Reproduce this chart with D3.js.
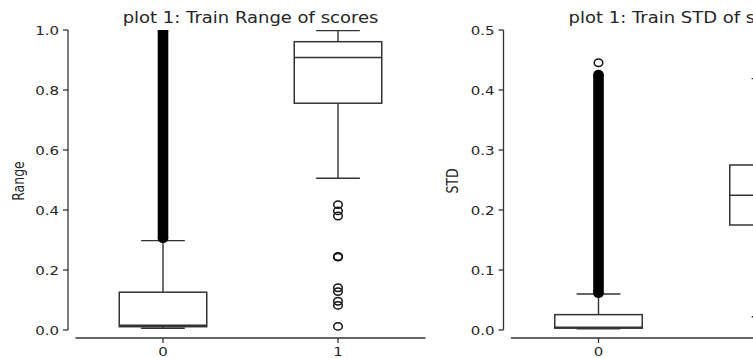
<!DOCTYPE html>
<html>
<head>
<meta charset="utf-8">
<script src="https://cdn.jsdelivr.net/npm/d3@7"></script>
<style>
  html, body { margin: 0; padding: 0; background: #fff; }
  svg { display: block; }
  text { font-family: "DejaVu Sans", sans-serif; fill: #262626; }
</style>
</head>
<body>
<svg id="chart" width="753" height="358"></svg>
<script>
// ---- data -------------------------------------------------------------
const categories = ["0", "1"];

// Range of scores: box statistics per group [whiskerLow, q1, median, q3, whiskerHigh]
const rangeStats = [
  [0.006, 0.011, 0.016, 0.126, 0.298],
  [0.506, 0.756, 0.908, 0.961, 0.998]
];
// group 0 has a continuous run of outliers between these values
const rangeDenseOutliers = [[0.305, 1.0], null];
const rangeOutliers = [
  [],
  [0.418, 0.397, 0.380, 0.245, 0.243, 0.141, 0.128, 0.096, 0.082, 0.012]
];
const rangeTicks = [0.0, 0.2, 0.4, 0.6, 0.8, 1.0];

// STD of scores
const stdStats = [
  [0.002, 0.003, 0.0045, 0.0256, 0.060],
  [0.022, 0.175, 0.2245, 0.275, 0.419]
];
const stdDenseOutliers = [[0.061, 0.426], null];
const stdOutliers = [
  [0.4455],
  []
];
const stdTicks = [0.0, 0.1, 0.2, 0.3, 0.4, 0.5];

// ---- drawing ----------------------------------------------------------
const svg = d3.select("#chart");
const INK = "#333333";
const SX = 1.2; // horizontal text stretch

function hText(g, x, y, str, size, anchor) {
  return g.append("text")
    .attr("transform", `translate(${x},${y}) scale(${SX},1)`)
    .attr("text-anchor", anchor)
    .style("font-size", size + "px")
    .text(str);
}

function panel(opts) {
  const g = svg.append("g");
  const x = d3.scaleLinear().domain([-0.5, 1.5]).range([opts.x0, opts.x0 + 350]);
  const y = d3.scaleLinear().domain(opts.yDomain).range([330, 30]);
  const half = (x(0.25) - x(0));
  const capHalf = (x(0.125) - x(0));

  const clipId = "clip" + opts.id;
  svg.append("clipPath").attr("id", clipId)
    .append("rect").attr("x", x(-0.5)).attr("y", y.range()[1])
    .attr("width", x(1.5) - x(-0.5)).attr("height", y.range()[0] - y.range()[1] + 2);

  const plot = g.append("g").attr("clip-path", `url(#${clipId})`);

  opts.stats.forEach((s, i) => {
    const cx = x(i);
    const [wl, q1, med, q3, wh] = s;
    // whiskers
    plot.append("line").attr("x1", cx).attr("x2", cx).attr("y1", y(q3)).attr("y2", y(wh))
      .attr("stroke", INK).attr("stroke-width", 1.4);
    plot.append("line").attr("x1", cx).attr("x2", cx).attr("y1", y(q1)).attr("y2", y(wl))
      .attr("stroke", INK).attr("stroke-width", 1.4);
    // caps
    [wl, wh].forEach(v => plot.append("line")
      .attr("x1", cx - capHalf).attr("x2", cx + capHalf).attr("y1", y(v)).attr("y2", y(v))
      .attr("stroke", INK).attr("stroke-width", 1.4));
    // box
    plot.append("rect").attr("x", cx - half).attr("y", y(q3))
      .attr("width", 2 * half).attr("height", y(q1) - y(q3))
      .attr("fill", "#fff").attr("stroke", INK).attr("stroke-width", 1.5);
    plot.append("line").attr("x1", cx - half).attr("x2", cx + half)
      .attr("y1", y(med)).attr("y2", y(med)).attr("stroke", INK).attr("stroke-width", 1.5);

    // dense outlier run
    const band = opts.dense[i];
    if (band) {
      const rx = 5.3, ry = 4.6;
      plot.append("rect").attr("x", cx - rx).attr("y", y(band[1]))
        .attr("width", 2 * rx).attr("height", y(band[0]) - y(band[1])).attr("fill", "#000");
      band.forEach(v => plot.append("ellipse").attr("cx", cx).attr("cy", y(v))
        .attr("rx", rx).attr("ry", ry).attr("fill", "#000"));
    }
    // individual outliers
    plot.selectAll(null).data(opts.outliers[i]).enter().append("ellipse")
      .attr("cx", cx).attr("cy", d => y(d)).attr("rx", 4.3).attr("ry", 3.7)
      .attr("fill", "none").attr("stroke", "#111").attr("stroke-width", 1.5);
  });

  // y axis (offset left)
  const ax = g.append("g");
  const spineX = opts.x0 - 7.5;
  ax.append("line").attr("x1", spineX).attr("x2", spineX).attr("y1", y(opts.yDomain[0]))
    .attr("y2", y(opts.yDomain[1])).attr("stroke", INK).attr("stroke-width", 1.3);
  opts.ticks.forEach(t => {
    ax.append("line").attr("x1", spineX - 5).attr("x2", spineX).attr("y1", y(t)).attr("y2", y(t))
      .attr("stroke", INK).attr("stroke-width", 1.3);
    hText(ax, spineX - 9, y(t) + 4.5, t.toFixed(1), 12.5, "end");
  });

  // x axis (offset down)
  const spineY = 338;
  ax.append("line").attr("x1", x(-0.5)).attr("x2", x(1.5)).attr("y1", spineY).attr("y2", spineY)
    .attr("stroke", INK).attr("stroke-width", 1.3);
  categories.forEach((c, i) => {
    ax.append("line").attr("x1", x(i)).attr("x2", x(i)).attr("y1", spineY).attr("y2", spineY + 5)
      .attr("stroke", INK).attr("stroke-width", 1.3);
    hText(ax, x(i), 356, c, 12.5, "middle");
  });

  // y label
  ax.append("text")
    .attr("transform", `translate(${opts.labelX},181) rotate(-90) scale(1,${SX})`)
    .attr("text-anchor", "middle").style("font-size", "12.5px").text(opts.ylabel);

  // title
  hText(g, (x(-0.5) + x(1.5)) / 2, 23, opts.title, 15, "middle");
}

panel({
  id: "a", x0: 75.5, yDomain: [0, 1], stats: rangeStats, dense: rangeDenseOutliers,
  outliers: rangeOutliers, ticks: rangeTicks, ylabel: "Range", labelX: 24,
  title: "plot 1: Train Range of scores"
});
panel({
  id: "b", x0: 511, yDomain: [0, 0.5], stats: stdStats, dense: stdDenseOutliers,
  outliers: stdOutliers, ticks: stdTicks, ylabel: "STD", labelX: 458,
  title: "plot 1: Train STD of scores"
});
</script>
</body>
</html>
